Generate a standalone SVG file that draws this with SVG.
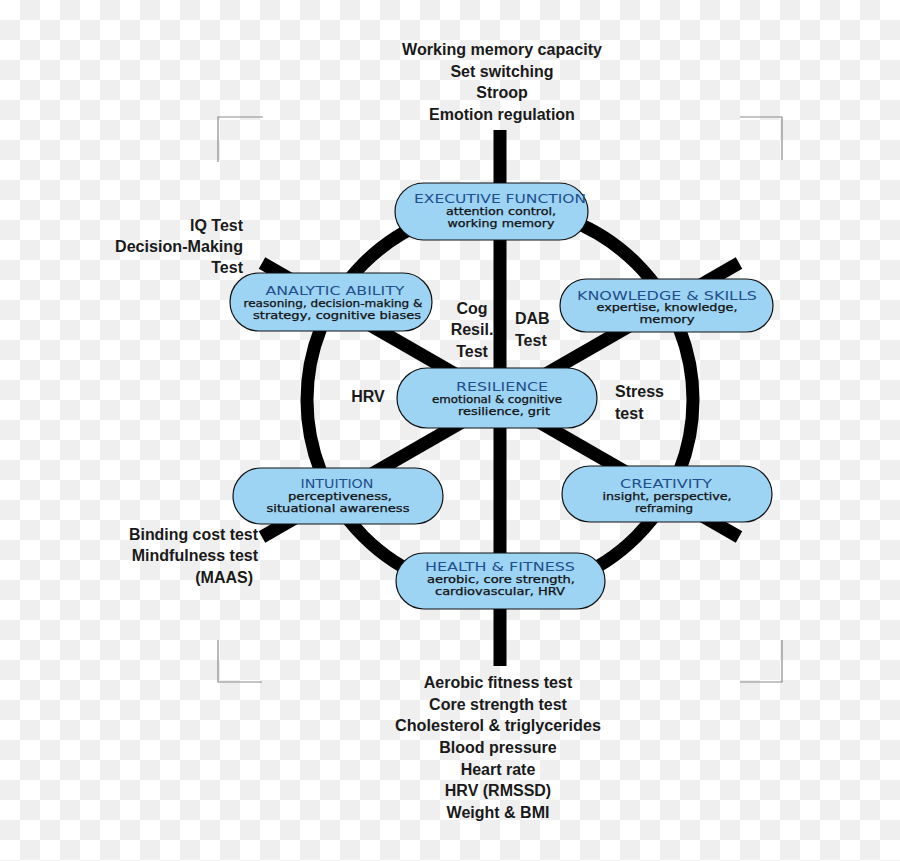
<svg xmlns="http://www.w3.org/2000/svg" width="900" height="861" viewBox="0 0 900 861">
<defs>
<pattern id="chk" width="40" height="40" patternUnits="userSpaceOnUse">
<rect width="40" height="40" fill="#ffffff"/>
<rect x="20" y="0" width="20" height="20" fill="#efefef"/>
<rect x="0" y="20" width="20" height="20" fill="#efefef"/>
</pattern>
<style>
.node{fill:#9dd3f3;stroke:#111;stroke-width:1.2}
.t{font-family:"DejaVu Sans",sans-serif;font-size:12.5px;fill:#1f4f8c;text-anchor:middle}
.s{font-family:"DejaVu Sans",sans-serif;font-size:10px;fill:#111;text-anchor:middle;stroke:#111;stroke-width:0.25}
.lab{font-family:"Liberation Sans",Arial,sans-serif;font-weight:bold;font-size:16px;fill:#1a1a1a}
.spoke{stroke:#000;stroke-width:13;fill:none}
.mark{stroke:#8c8c8c;stroke-width:1.2;fill:none}
</style>
</defs>
<rect width="900" height="861" fill="url(#chk)"/>
<g id="corners">
<path class="mark" d="M263 117H218V162"/>
<path class="mark" d="M740 117H782V160"/>
<path class="mark" d="M218 640V682H262"/>
<path class="mark" d="M782 640V682H740"/>
</g>
<g id="connectors">
<circle class="spoke" cx="500" cy="400" r="193"/>
<line class="spoke" x1="500" y1="130" x2="500" y2="666"/>
<line class="spoke" x1="262" y1="263" x2="739" y2="537"/>
<line class="spoke" x1="739" y1="263" x2="262" y2="537"/>
</g>
<g id="exec">
<rect class="node" x="395" y="183" width="193" height="57" rx="28.5"/>
<text class="t" x="500" y="203" textLength="172" lengthAdjust="spacingAndGlyphs">EXECUTIVE FUNCTION</text>
<text class="s" x="501" y="215" textLength="110" lengthAdjust="spacingAndGlyphs">attention control,</text>
<text class="s" x="501" y="227" textLength="107" lengthAdjust="spacingAndGlyphs">working memory</text>
</g>
<g id="analytic">
<rect class="node" x="230" y="273" width="202" height="58" rx="29"/>
<text class="t" x="335" y="295" textLength="139" lengthAdjust="spacingAndGlyphs">ANALYTIC ABILITY</text>
<text class="s" x="333" y="307" textLength="179" lengthAdjust="spacingAndGlyphs">reasoning, decision-making &amp;</text>
<text class="s" x="337" y="319" textLength="168" lengthAdjust="spacingAndGlyphs">strategy, cognitive biases</text>
</g>
<g id="knowledge">
<rect class="node" x="560" y="279" width="213" height="53" rx="26.5"/>
<text class="t" x="667" y="300" textLength="180" lengthAdjust="spacingAndGlyphs">KNOWLEDGE &amp; SKILLS</text>
<text class="s" x="667" y="311" textLength="141" lengthAdjust="spacingAndGlyphs">expertise, knowledge,</text>
<text class="s" x="667" y="323" textLength="55" lengthAdjust="spacingAndGlyphs">memory</text>
</g>
<g id="resilience">
<rect class="node" x="397" y="368" width="200" height="60" rx="30"/>
<text class="t" x="502" y="391" textLength="92" lengthAdjust="spacingAndGlyphs">RESILIENCE</text>
<text class="s" x="497" y="403" textLength="130" lengthAdjust="spacingAndGlyphs">emotional &amp; cognitive</text>
<text class="s" x="504" y="415" textLength="92" lengthAdjust="spacingAndGlyphs">resilience, grit</text>
</g>
<g id="intuition">
<rect class="node" x="233" y="468" width="210" height="56" rx="28"/>
<text class="t" x="337" y="488" textLength="73" lengthAdjust="spacingAndGlyphs">INTUITION</text>
<text class="s" x="340" y="500" textLength="104" lengthAdjust="spacingAndGlyphs">perceptiveness,</text>
<text class="s" x="338" y="512" textLength="143" lengthAdjust="spacingAndGlyphs">situational awareness</text>
</g>
<g id="creativity">
<rect class="node" x="562" y="466" width="210" height="56" rx="28"/>
<text class="t" x="666" y="488" textLength="92" lengthAdjust="spacingAndGlyphs">CREATIVITY</text>
<text class="s" x="667" y="500" textLength="129" lengthAdjust="spacingAndGlyphs">insight, perspective,</text>
<text class="s" x="664" y="512" textLength="58" lengthAdjust="spacingAndGlyphs">reframing</text>
</g>
<g id="health">
<rect class="node" x="396" y="553" width="209" height="56" rx="28"/>
<text class="t" x="500" y="571" textLength="150" lengthAdjust="spacingAndGlyphs">HEALTH &amp; FITNESS</text>
<text class="s" x="501" y="583" textLength="148" lengthAdjust="spacingAndGlyphs">aerobic, core strength,</text>
<text class="s" x="500" y="595" textLength="130" lengthAdjust="spacingAndGlyphs">cardiovascular, HRV</text>
</g>
<g id="labels">
<g text-anchor="middle">
<text class="lab" x="502" y="55" textLength="200" lengthAdjust="spacingAndGlyphs">Working memory capacity</text>
<text class="lab" x="502" y="77">Set switching</text>
<text class="lab" x="502" y="98">Stroop</text>
<text class="lab" x="502" y="120">Emotion regulation</text>
<text class="lab" x="472" y="314">Cog</text>
<text class="lab" x="472" y="335">Resil.</text>
<text class="lab" x="472" y="357">Test</text>
<text class="lab" x="368" y="402">HRV</text>
<text class="lab" x="498" y="688">Aerobic fitness test</text>
<text class="lab" x="498" y="710">Core strength test</text>
<text class="lab" x="498" y="731" textLength="206" lengthAdjust="spacingAndGlyphs">Cholesterol &amp; triglycerides</text>
<text class="lab" x="498" y="753">Blood pressure</text>
<text class="lab" x="498" y="775">Heart rate</text>
<text class="lab" x="498" y="796">HRV (RMSSD)</text>
<text class="lab" x="498" y="818">Weight &amp; BMI</text>
</g>
<g text-anchor="end">
<text class="lab" x="243" y="231">IQ Test</text>
<text class="lab" x="243" y="252" textLength="128" lengthAdjust="spacingAndGlyphs">Decision-Making</text>
<text class="lab" x="243" y="273">Test</text>
<text class="lab" x="258" y="540" textLength="129" lengthAdjust="spacingAndGlyphs">Binding cost test</text>
<text class="lab" x="258" y="561">Mindfulness test</text>
<text class="lab" x="253" y="583">(MAAS)</text>
</g>
<text class="lab" x="515" y="324">DAB</text>
<text class="lab" x="515" y="346">Test</text>
<text class="lab" x="615" y="397">Stress</text>
<text class="lab" x="615" y="419">test</text>
</g>
</svg>
